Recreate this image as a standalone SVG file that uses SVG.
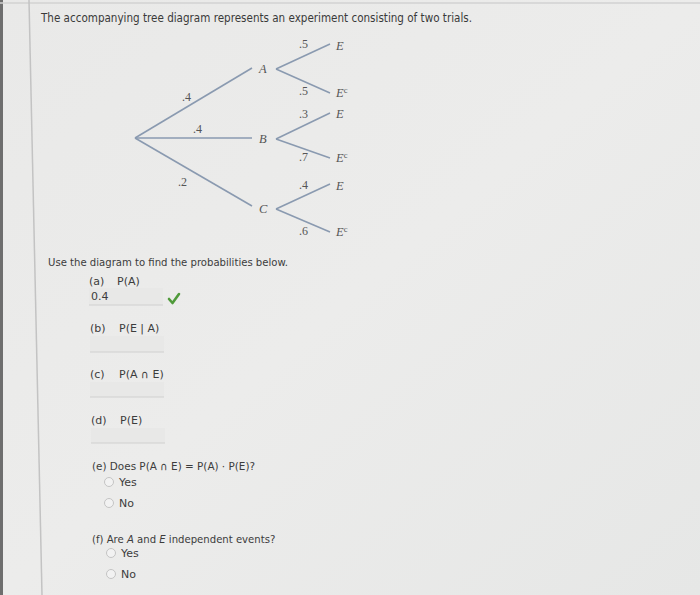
<svg xmlns="http://www.w3.org/2000/svg" width="700" height="595" viewBox="0 0 700 595">
<defs>
<linearGradient id="bg" x1="0" y1="0" x2="1" y2="1">
<stop offset="0" stop-color="#e9e9e8"/>
<stop offset="0.5" stop-color="#ececeb"/>
<stop offset="1" stop-color="#e6e7e6"/>
</linearGradient>
<style>
.ui{font-family:"DejaVu Sans",Verdana,sans-serif;fill:#3c3c3c;font-size:11px}
.t{font-family:"DejaVu Sans",Verdana,sans-serif;fill:#3a3a3a;font-size:12px}
.br{stroke:#8a9ab0;stroke-width:1.6;fill:none}
.lb{font-family:"Liberation Serif","Times New Roman",serif;font-style:italic;fill:#555;font-size:12.5px}
.nm{font-family:"Liberation Serif","Times New Roman",serif;fill:#555;font-size:12px}
.box{fill:#e8e8e7;stroke:none}
.boxl{stroke:#cfcfcf;stroke-width:1.2}
.rad{fill:#f2f2f2;stroke:#c4c4c4;stroke-width:1}
</style>
</defs>
<rect width="700" height="595" fill="url(#bg)"/>
<rect x="0" y="0" width="3" height="595" fill="#6e6e6e"/>
<line x1="0" y1="3" x2="700" y2="3" stroke="#d2d2d2" stroke-width="1.5"/>
<line x1="29" y1="0" x2="42" y2="595" stroke="#c3c3c3" stroke-width="1.5"/>

<text class="t" x="41" y="22" textLength="431" lengthAdjust="spacingAndGlyphs">The accompanying tree diagram represents an experiment consisting of two trials.</text>

<g id="connectors">
<line class="br" x1="135" y1="138" x2="252" y2="68"/>
<line class="br" x1="135" y1="138" x2="252" y2="138"/>
<line class="br" x1="135" y1="138" x2="252" y2="206"/>
<line class="br" x1="276" y1="69" x2="330" y2="44"/>
<line class="br" x1="276" y1="69" x2="330" y2="93"/>
<line class="br" x1="276" y1="139" x2="330" y2="113"/>
<line class="br" x1="276" y1="139" x2="330" y2="158"/>
<line class="br" x1="276" y1="209" x2="330" y2="184"/>
<line class="br" x1="276" y1="209" x2="330" y2="232"/>
<text class="nm" x="182" y="101">.4</text>
<text class="nm" x="193" y="133">.4</text>
<text class="nm" x="178" y="186">.2</text>
<text class="nm" x="299" y="48">.5</text>
<text class="nm" x="299" y="95">.5</text>
<text class="nm" x="299" y="118">.3</text>
<text class="nm" x="299" y="161">.7</text>
<text class="nm" x="299" y="189">.4</text>
<text class="nm" x="299" y="235">.6</text>
</g>

<g id="nodeA"><text class="lb" x="259" y="73">A</text></g>
<g id="nodeB"><text class="lb" x="259" y="143">B</text></g>
<g id="nodeC"><text class="lb" x="259" y="213">C</text></g>
<g id="nodeAE"><text class="lb" x="336" y="50">E</text></g>
<g id="nodeAEc"><text class="lb" x="336" y="97">E<tspan font-size="8.5" dy="-4" font-style="normal">c</tspan></text></g>
<g id="nodeBE"><text class="lb" x="336" y="118">E</text></g>
<g id="nodeBEc"><text class="lb" x="336" y="162">E<tspan font-size="8.5" dy="-4" font-style="normal">c</tspan></text></g>
<g id="nodeCE"><text class="lb" x="336" y="190">E</text></g>
<g id="nodeCEc"><text class="lb" x="336" y="236">E<tspan font-size="8.5" dy="-4" font-style="normal">c</tspan></text></g>

<text class="ui" x="48" y="266" textLength="240" lengthAdjust="spacingAndGlyphs">Use the diagram to find the probabilities below.</text>

<g id="qa">
<text class="ui" x="89" y="285">(a)</text>
<text class="ui" x="117" y="285">P(A)</text>
<rect class="box" x="89" y="288" width="74" height="17"/>
<line class="boxl" x1="89" y1="305" x2="163" y2="305"/>
<text class="ui" x="91" y="300" font-size="10">0.4</text>
<path d="M169 299 L172.5 303 L179 294" stroke="#4f9a3a" stroke-width="2.6" fill="none" stroke-linecap="round" stroke-linejoin="round"/>
</g>
<g id="qb">
<text class="ui" x="90" y="332">(b)</text>
<text class="ui" x="119" y="332">P(E | A)</text>
<rect class="box" x="90" y="336" width="74" height="16"/>
<line class="boxl" x1="90" y1="352" x2="164" y2="352"/>
</g>
<g id="qc">
<text class="ui" x="90" y="378">(c)</text>
<text class="ui" x="119" y="378">P(A ∩ E)</text>
<rect class="box" x="90" y="382" width="74" height="15"/>
<line class="boxl" x1="90" y1="397" x2="164" y2="397"/>
</g>
<g id="qd">
<text class="ui" x="91" y="424">(d)</text>
<text class="ui" x="120" y="424">P(E)</text>
<rect class="box" x="91" y="428" width="74" height="15"/>
<line class="boxl" x1="91" y1="443" x2="165" y2="443"/>
</g>
<g id="qe">
<text class="ui" x="92" y="470" textLength="163" lengthAdjust="spacingAndGlyphs">(e) Does P(A ∩ E) = P(A) · P(E)?</text>
<circle class="rad" cx="109" cy="482" r="4.5"/>
<text class="ui" x="119" y="486">Yes</text>
<circle class="rad" cx="109" cy="503" r="4.5"/>
<text class="ui" x="119" y="507">No</text>
</g>
<g id="qf">
<g transform="translate(92,543) scale(0.92,1)">
<text class="ui" x="0" y="0">(f) Are <tspan font-style="italic">A</tspan> and <tspan font-style="italic">E</tspan> independent events?</text>
</g>
<circle class="rad" cx="111" cy="553" r="4.5"/>
<text class="ui" x="121" y="557">Yes</text>
<circle class="rad" cx="111" cy="574" r="4.5"/>
<text class="ui" x="121" y="578">No</text>
</g>
</svg>
